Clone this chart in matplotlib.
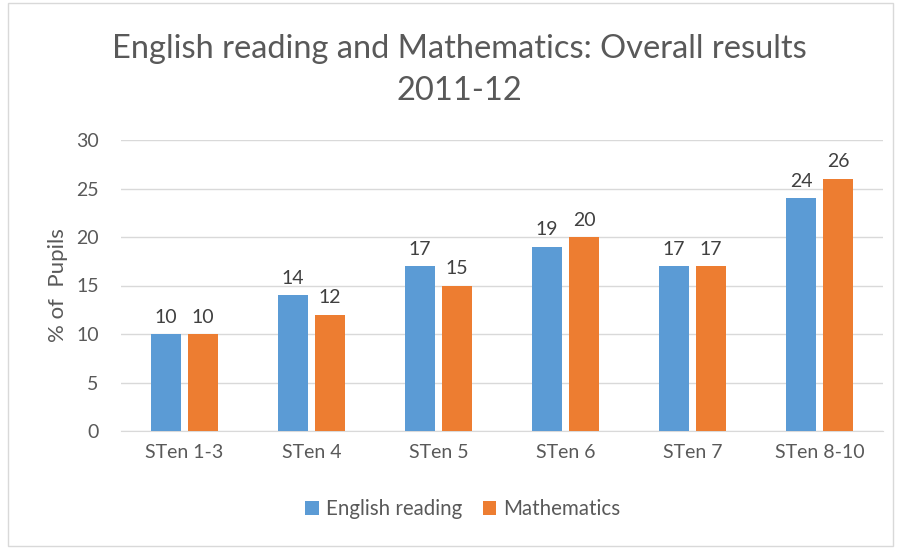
import numpy as np
import matplotlib.pyplot as plt
from matplotlib.patches import Rectangle

categories = ["STen 1-3", "STen 4", "STen 5", "STen 6", "STen 7", "STen 8-10"]
english = [10, 14, 17, 19, 17, 24]
maths = [10, 12, 15, 20, 17, 26]
series_names = ["English reading", "Mathematics"]

plt.rcParams['font.family'] = ['Lato', 'DejaVu Sans']

fig = plt.figure(figsize=(9.01, 5.48), dpi=100)
ax = fig.add_axes([121 / 901, 1 - 431 / 548, (883 - 121) / 901, (431 - 140) / 548])

x = np.arange(len(categories))
w = 0.23
off = 0.146
b1 = ax.bar(x - off, english, w, color="#5b9bd5", label=series_names[0], zorder=3)
b2 = ax.bar(x + off, maths, w, color="#ed7d31", label=series_names[1], zorder=3)

for bars in (b1, b2):
    ax.bar_label(bars, padding=6, fontsize=14, color="#404040")

ax.set_xlim(-0.5, len(categories) - 0.5)
ax.set_ylim(0, 30)
ax.set_yticks(range(0, 31, 5))
ax.set_xticks(x)
ax.set_xticklabels(categories)
ax.tick_params(axis='both', length=0, labelsize=14, labelcolor="#595959")
ax.tick_params(axis='y', pad=16)
ax.tick_params(axis='x', pad=9)
ax.yaxis.grid(True, color="#d9d9d9", linewidth=1, zorder=0)
for s in ax.spines.values():
    s.set_visible(False)
ax.spines['bottom'].set_visible(True)
ax.spines['bottom'].set_color("#d9d9d9")

ax.set_ylabel("% of  Pupils", fontsize=16, color="#595959", labelpad=6)

fig.text(0.51, 1 - 70 / 548, "English reading and Mathematics: Overall results\n2011-12",
         ha='center', va='center', fontsize=23.5, color="#595959", linespacing=1.5)

fig.legend(loc='center', bbox_to_anchor=(463 / 901, 1 - 509 / 548), ncol=2, frameon=False,
           fontsize=14.8, labelcolor="#595959", handlelength=0.65, handleheight=0.65,
           columnspacing=1.0, handletextpad=0.35)

fig.patches.append(Rectangle((8 / 901, 2 / 548), 885 / 901, 543 / 548, transform=fig.transFigure,
                             fill=False, edgecolor="#d9d9d9", linewidth=1))

fig.savefig("out.png", dpi=100)
